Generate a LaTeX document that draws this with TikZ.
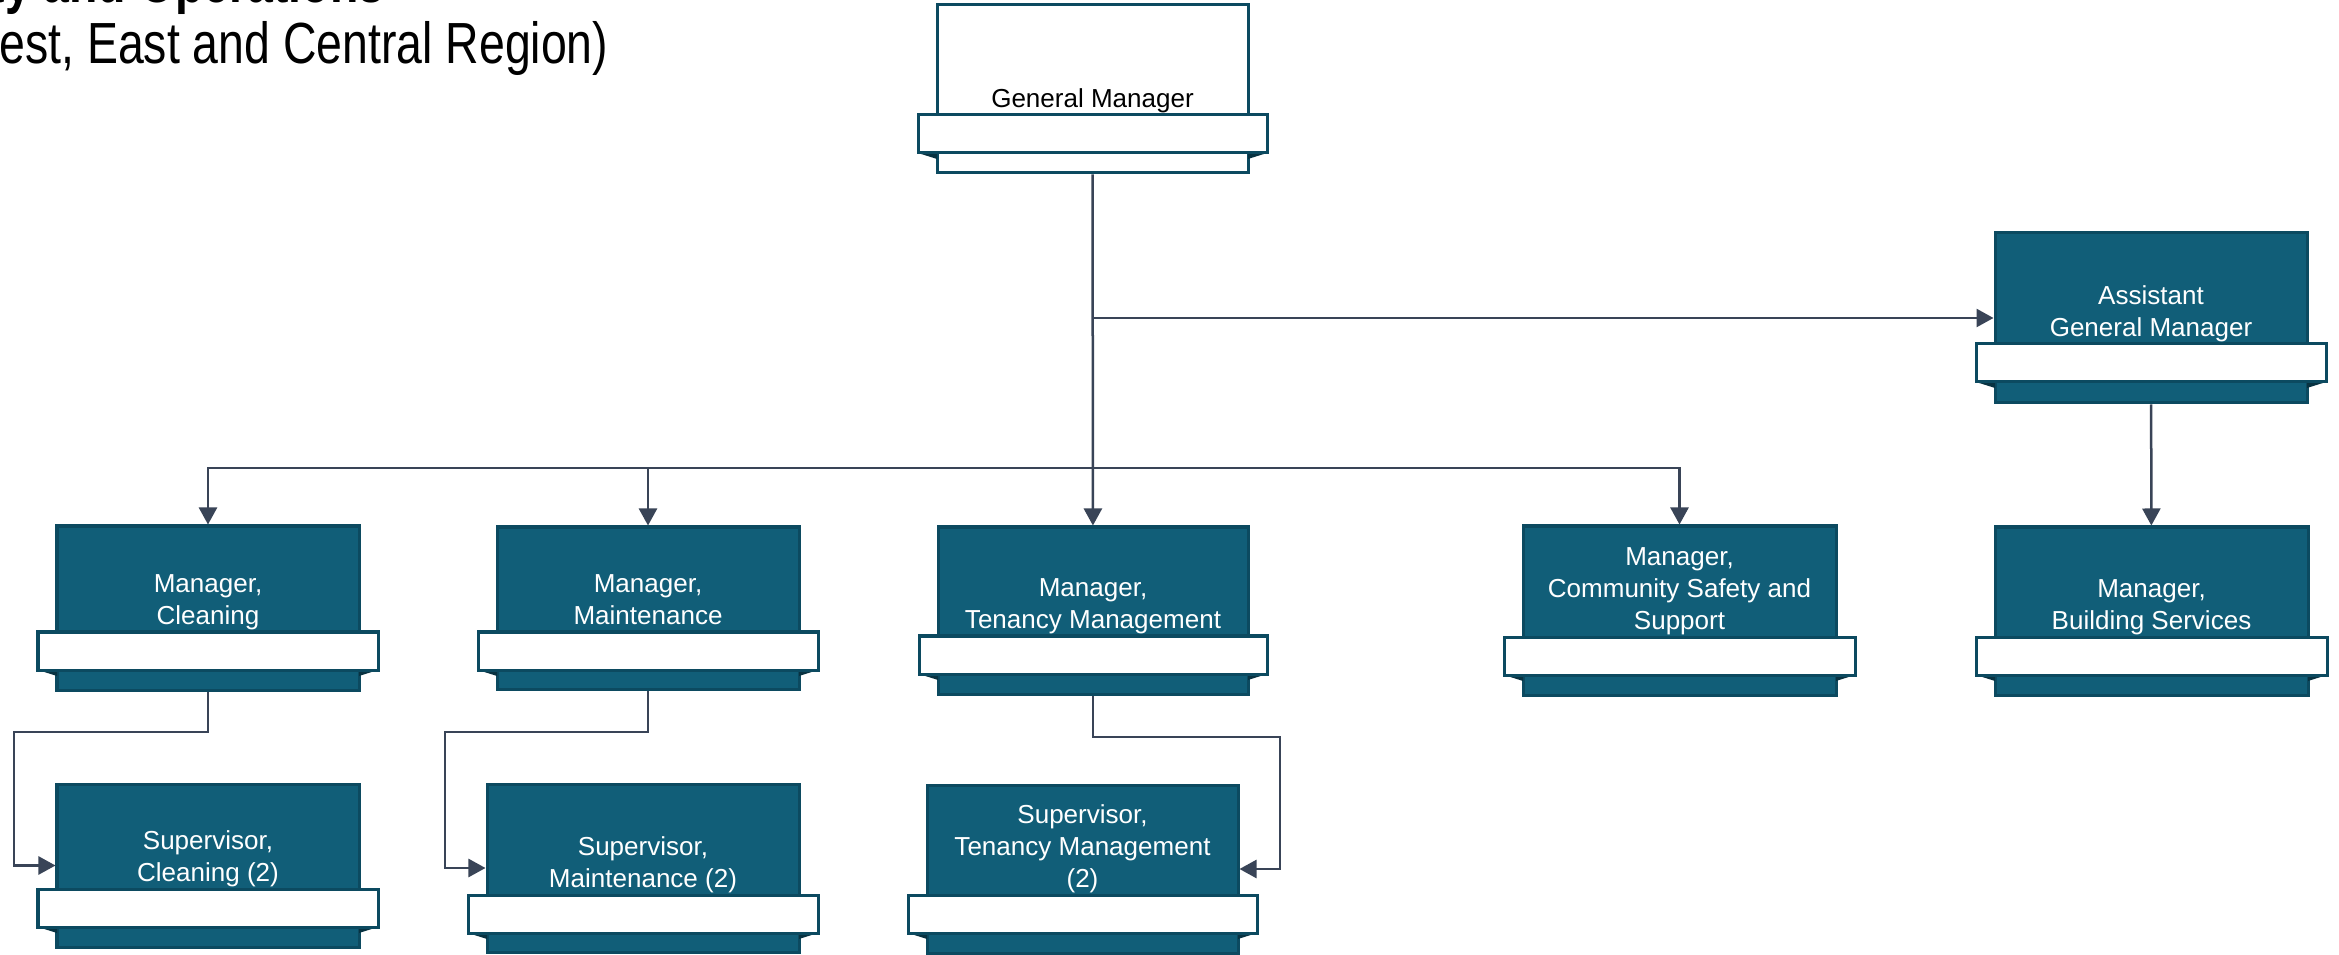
\documentclass[tikz,border=0pt]{standalone}
\usepackage{fontspec}
\setmainfont{Liberation Sans}
\usepackage{graphicx}
\usetikzlibrary{shapes,arrows.meta,positioning,fit}

\definecolor{PostFill}{RGB}{17,94,120}
\definecolor{PostLine}{RGB}{12,74,96}
\definecolor{FoldDark}{RGB}{8,50,65}
\definecolor{LinkGrey}{RGB}{57,68,87}

% one post of the chart: name, fill, text colour, left, top, right, bottom, band top, title
\newcommand{\OrgBox}[9]{
	\node (#1) [Post, fill=#2, fit={(#4,#5) (#6,#7)}] {};
	\fill [Fold] (#4-19,#8+38) -- (#4,#8+38) -- (#4,#8+44) -- cycle;
	\fill [Fold] (#6+19,#8+38) -- (#6,#8+38) -- (#6,#8+44) -- cycle;
	\node (#1t) at ({(#4+#6)/2},#8-7) [Role, text=#3] {#9};
	\draw [Band] (#4-19,#8) rectangle (#6+19,#8+38);
}

\begin{document}
\begin{tikzpicture}[x=0.01cm, y=-0.01cm]
				\tikzstyle{Post}	= [draw=PostLine, line width=0.03cm, inner sep=0pt]
				\tikzstyle{Band}	= [draw=PostLine, line width=0.03cm, fill=white]
				\tikzstyle{Fold}	= [fill=FoldDark]
				\tikzstyle{Role}	= [anchor=south, inner sep=0pt, align=center, text depth=0pt, font=\fontsize{7.4pt}{9.1pt}\selectfont]
				\tikzstyle{Heading}	= [anchor=base east, inner sep=0pt, font=\fontsize{16.5pt}{19pt}\selectfont]
				\tikzstyle{Link}	= [draw=LinkGrey, line width=0.025cm]
				\tikzstyle{Arrow}	= [Link, -{Triangle[length=0.17cm, width=0.18cm]}]

				\fill [white] (0,0) rectangle (2339,955);
				\useasboundingbox (0,0) rectangle (2339,955);

				\node (heading) at (385,3) [Heading] {\bfseries\scalebox{0.8}[1]{Community and Operations}};
				\node (region) at (609,64) [Heading] {\scalebox{0.8}[1]{(North West, East and Central Region)}};

				\OrgBox{gm}{white}{black}{937}{5}{1248}{173}{115}{General Manager}
				\OrgBox{agm}{PostFill}{white}{1995}{233}{2307}{403}{344}{Assistant\\General Manager}
				\OrgBox{mc}{PostFill}{white}{57}{526}{359}{690}{632}{Manager,\\Cleaning}
				\OrgBox{mm}{PostFill}{white}{497}{527}{799}{689}{632}{Manager,\\Maintenance}
				\OrgBox{mt}{PostFill}{white}{938}{527}{1248}{694}{636}{Manager,\\Tenancy Management}
				\OrgBox{mcs}{PostFill}{white}{1523}{526}{1836}{695}{637}{Manager,\\Community Safety and\\Support}
				\OrgBox{mb}{PostFill}{white}{1995}{527}{2308}{695}{637}{Manager,\\Building Services}
				\OrgBox{sc}{PostFill}{white}{57}{784}{359}{947}{889}{Supervisor,\\Cleaning (2)}
				\OrgBox{sm}{PostFill}{white}{487}{784}{799}{952}{895}{Supervisor,\\Maintenance (2)}
				\OrgBox{st}{PostFill}{white}{927}{785}{1238}{953}{895}{Supervisor,\\Tenancy Management\\(2)}

				\coordinate (agmjoin) at (1093,318);
				\coordinate (bus) at (1093,468);
				\coordinate (mcturn) at (14,732);
				\coordinate (mmturn) at (445,732);
				\coordinate (mtturn) at (1280,737);

				\draw [Arrow] (gm) -- (mt);
				\draw [Arrow] (agmjoin) -- (agm);
				\draw [Arrow] (bus) -| (mc);
				\draw [Arrow] (bus) -| (mm);
				\draw [Arrow] (bus) -| (mcs);
				\draw [Arrow] (agm) -- (mb);
				\draw [Arrow] (mc) |- (mcturn) |- (sc);
				\draw [Arrow] (mm) |- (mmturn) |- (sm);
				\draw [Arrow] (mt) |- (mtturn) |- (st);
\end{tikzpicture}
\end{document}
